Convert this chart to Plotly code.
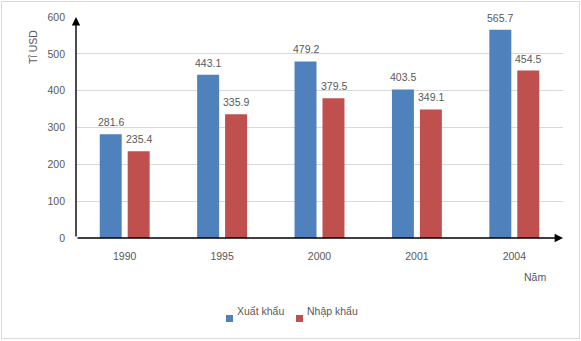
import plotly.graph_objects as go

years = ["1990", "1995", "2000", "2001", "2004"]
xuat_khau = [281.6, 443.1, 479.2, 403.5, 565.7]
nhap_khau = [235.4, 335.9, 379.5, 349.1, 454.5]
series_names = ["Xuất khẩu", "Nhập khẩu"]
colors = ["#4F81BD", "#C0504D"]
y_ticks = [0, 100, 200, 300, 400, 500, 600]

W, H = 581, 341
L, R, T, B = 76, 18, 17, 103
pw, ph = W - L - R, H - T - B
FONT = "Liberation Sans"
GRAY = "#595959"
FS = 10.5

def px(x):
    return (x - L) / pw

def py(y):
    return (H - B - y) / ph

fig = go.Figure()
for name, vals, col in zip(series_names, [xuat_khau, nhap_khau], colors):
    fig.add_trace(go.Bar(x=years, y=vals, name=name, marker=dict(color=col, line=dict(width=0)),
                         showlegend=False))

annotations = []
for vals, sh in zip([xuat_khau, nhap_khau], [-14, 14]):
    for idx, v in enumerate(vals):
        annotations.append(dict(x=idx, y=v, xref="x", yref="y", text=f"{v:.1f}", showarrow=False,
                                xshift=sh, yshift=4, yanchor="bottom",
                                font=dict(family=FONT, size=FS, color=GRAY)))

# axis arrows
annotations.append(dict(xref="paper", yref="paper", x=0, y=1, ax=0, ay=ph, text="",
                        showarrow=True, arrowhead=2, arrowsize=1.2, arrowwidth=1.4, arrowcolor="black"))
annotations.append(dict(xref="paper", yref="paper", x=1, y=0, ax=-pw, ay=0, text="",
                        showarrow=True, arrowhead=2, arrowsize=1.2, arrowwidth=1.4, arrowcolor="black"))

# axis titles
annotations.append(dict(xref="paper", yref="paper", x=px(25), y=py(28), text="Tỉ USD", textangle=-90,
                        showarrow=False, font=dict(family=FONT, size=FS, color=GRAY)))
annotations.append(dict(xref="paper", yref="paper", x=px(548), y=py(285), text="Năm",
                        showarrow=False, font=dict(family=FONT, size=FS, color=GRAY)))

# legend (manual)
shapes = []
leg_items = [(226, series_names[0], colors[0]), (296, series_names[1], colors[1])]
for x0, name, col in leg_items:
    shapes.append(dict(type="rect", xref="paper", yref="paper", x0=px(x0), x1=px(x0 + 7),
                       y0=py(322), y1=py(315), fillcolor=col, line=dict(width=0)))
    annotations.append(dict(xref="paper", yref="paper", x=px(x0 + 8.5), y=py(318.5), text=name,
                            xanchor="left", showarrow=False,
                            font=dict(family=FONT, size=FS, color=GRAY)))

# outer border
shapes.append(dict(type="rect", xref="paper", yref="paper", x0=px(1.5), x1=px(579.5),
                   y0=py(338.5), y1=py(1.5), line=dict(color="#D9D9D9", width=1),
                   fillcolor="rgba(0,0,0,0)", layer="below"))

fig.update_layout(
    width=W, height=H, margin=dict(l=L, r=R, t=T, b=B),
    paper_bgcolor="white", plot_bgcolor="white",
    barmode="group", bargap=0.426, bargroupgap=0.214,
    annotations=annotations, shapes=shapes, showlegend=False,
    font=dict(family=FONT, size=FS, color=GRAY),
)
fig.update_xaxes(type="category", range=[-0.5, len(years) - 0.5], showgrid=False, showline=False,
                 zeroline=False, ticks="", ticklabelstandoff=10,
                 tickfont=dict(family=FONT, size=FS, color=GRAY))
fig.update_yaxes(range=[0, 600], tickvals=y_ticks, showgrid=True, gridcolor="#D9D9D9", gridwidth=1,
                 zeroline=False, showline=False, ticks="", ticklabelstandoff=10,
                 tickfont=dict(family=FONT, size=FS, color=GRAY))

fig.write_html("out.html")
